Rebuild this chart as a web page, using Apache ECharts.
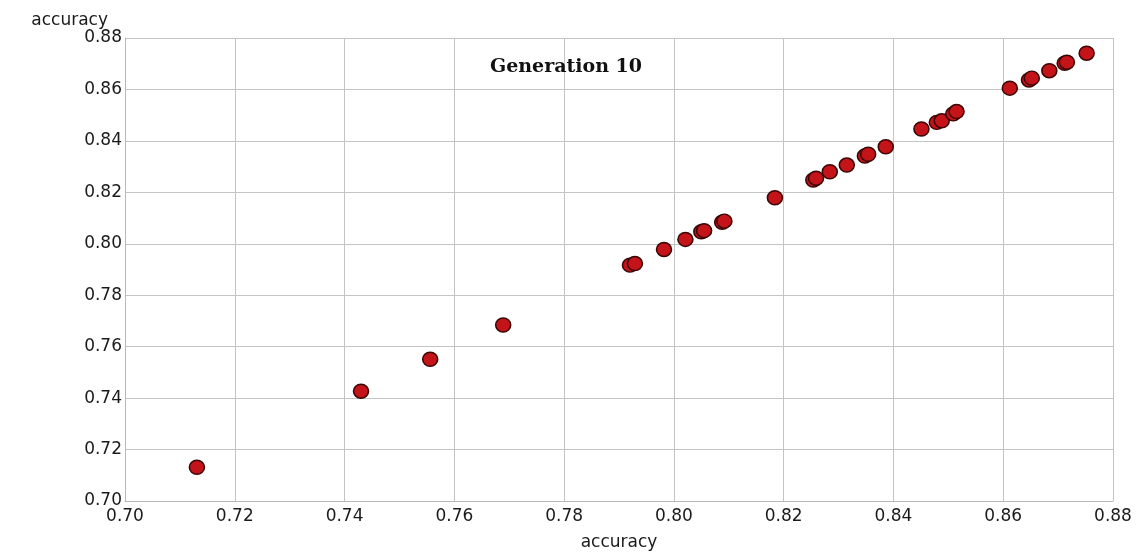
<!DOCTYPE html>
<html>
<head>
<meta charset="utf-8">
<script src="https://cdn.jsdelivr.net/npm/echarts@6/dist/echarts.min.js"></script>
<style>html,body{margin:0;padding:0;background:#fff}#c{width:1144px;height:552px}</style>
</head>
<body>
<div id="c"></div>
<script>
const titleText = "Generation 10";
const xName = "accuracy";
const yName = "accuracy";
const xs = [0.7131,0.7430,0.7556,0.7689,0.7920,0.7929,0.7982,0.8021,0.8050,0.8055,0.8088,0.8092,0.8184,0.8254,0.8259,0.8284,0.8315,0.8348,0.8354,0.8386,0.8451,0.8479,0.8488,0.8509,0.8515,0.8612,0.8647,0.8652,0.8684,0.8712,0.8716,0.8752];
const ys = [0.7131,0.7427,0.7551,0.7684,0.7917,0.7923,0.7978,0.8017,0.8047,0.8051,0.8084,0.8088,0.8179,0.8248,0.8255,0.8280,0.8306,0.8341,0.8348,0.8377,0.8446,0.8472,0.8478,0.8505,0.8514,0.8605,0.8637,0.8644,0.8673,0.8702,0.8706,0.8741];
const points = xs.map((x,i)=>[x,ys[i]]);
const chart = echarts.init(document.getElementById('c'));
const axisFont = {color:'#1a1a1a', fontSize:17, fontFamily:'DejaVu Sans, Verdana, sans-serif'};
chart.setOption({
  animation:false,
  backgroundColor:'#fff',
  title:{text:titleText,left:561,top:53,textAlign:'center',
    textStyle:{fontFamily:'DejaVu Serif, serif',fontWeight:'bold',fontSize:19,color:'#111'}},
  grid:{left:125,right:31,top:38,bottom:51,containLabel:false,outerBoundsMode:'none'},
  xAxis:{type:'value',min:0.70,max:0.88,interval:0.02,
    name:xName,nameLocation:'middle',nameGap:33,nameTextStyle:axisFont,
    axisLine:{show:true,lineStyle:{color:'#b8b8b8'}},axisTick:{show:false},
    axisLabel:Object.assign({formatter:v=>v.toFixed(2),margin:7},axisFont),
    splitLine:{show:true,lineStyle:{color:'#c4c4c4',width:1}}},
  yAxis:{type:'value',min:0.70,max:0.88,interval:0.02,
    name:yName,nameLocation:'end',nameGap:9,
    nameTextStyle:Object.assign({align:'right',padding:[0,17,0,0]},axisFont),
    axisLine:{show:true,lineStyle:{color:'#b8b8b8'}},axisTick:{show:false},
    axisLabel:Object.assign({formatter:v=>v.toFixed(2),margin:3},axisFont),
    splitLine:{show:true,lineStyle:{color:'#c4c4c4',width:1}}},
  series:[{type:'scatter',data:points,symbol:'circle',symbolSize:[15,14],
    itemStyle:{color:'#c4141a',borderColor:'#3a0505',borderWidth:1.5,opacity:1}}]
});
</script>
</body>
</html>
